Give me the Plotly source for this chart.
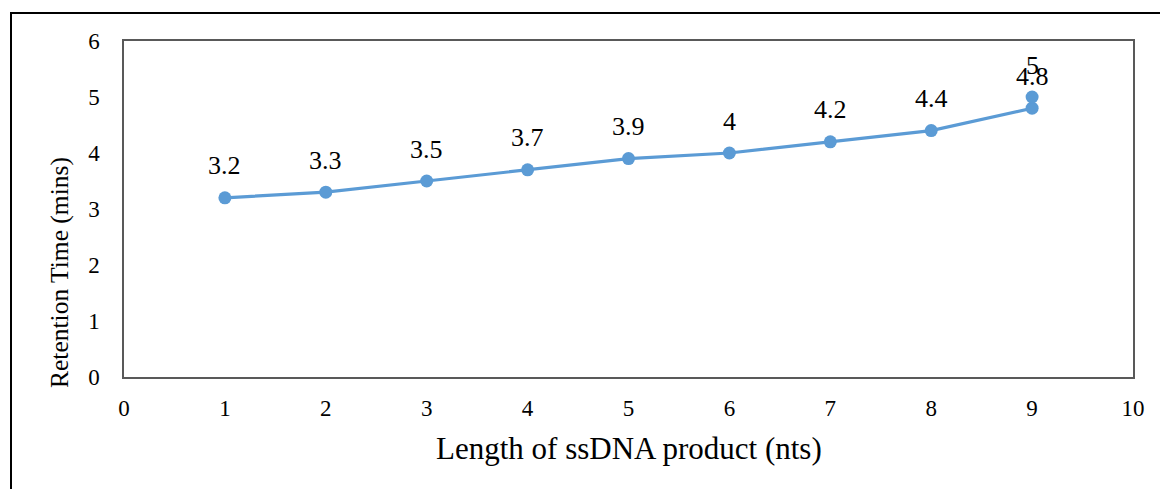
import plotly.graph_objects as go

# Retention time of ssDNA products by length
lengths = [1, 2, 3, 4, 5, 6, 7, 8, 9, 9]
retention = [3.2, 3.3, 3.5, 3.7, 3.9, 4.0, 4.2, 4.4, 4.8, 5.0]
value_labels = ["3.2", "3.3", "3.5", "3.7", "3.9", "4", "4.2", "4.4", "4.8", "5"]

x_ticks = list(range(0, 11))
y_ticks = list(range(0, 7))

FONT = "Liberation Serif, Times New Roman, serif"
BLUE = "#5B9BD5"

W, H = 1160, 489
ML, MR, MT, MB = 124, 27, 41, 112
PW, PH = W - ML - MR, H - MT - MB


def px_x(p):
    return (p - ML) / PW


def px_y(p):
    return (H - MB - p) / PH


fig = go.Figure()
fig.add_trace(go.Scatter(
    x=lengths, y=retention, mode="lines+markers",
    line=dict(color=BLUE, width=3.2),
    marker=dict(color=BLUE, size=13),
    hoverinfo="x+y", showlegend=False,
))

# value labels above each point
for xv, yv, lab in zip(lengths, retention, value_labels):
    fig.add_annotation(x=xv, y=yv, text=lab, showarrow=False,
                       yshift=32, font=dict(family=FONT, size=26, color="#000000"))

# axis titles
fig.add_annotation(xref="paper", yref="paper", x=px_x(629), y=px_y(448),
                   text="Length of ssDNA product (nts)", showarrow=False,
                   xanchor="center", yanchor="middle",
                   font=dict(family=FONT, size=31, color="#000000"))
fig.add_annotation(xref="paper", yref="paper", x=px_x(59), y=px_y(273),
                   text="Retention Time (mins)", showarrow=False, textangle=-90,
                   xanchor="center", yanchor="middle",
                   font=dict(family=FONT, size=25.5, color="#000000"))

# outer frame around the whole chart
fig.add_shape(type="rect", xref="paper", yref="paper",
              x0=px_x(11), x1=px_x(1250), y0=px_y(600), y1=px_y(13),
              line=dict(color="#000000", width=2), layer="above")

fig.update_layout(
    width=W, height=H,
    margin=dict(l=ML, r=MR, t=MT, b=MB),
    paper_bgcolor="white", plot_bgcolor="white",
    font=dict(family=FONT, size=23, color="#000000"),
    xaxis=dict(range=[0, 10], tickvals=x_ticks, showgrid=False, zeroline=False,
               showline=True, mirror=True, linecolor="#595959", linewidth=1.5,
               ticks="", ticklabelstandoff=10),
    yaxis=dict(range=[0, 6], tickvals=y_ticks, showgrid=False, zeroline=False,
               showline=True, mirror=True, linecolor="#595959", linewidth=1.5,
               ticks="", ticklabelstandoff=18),
)

fig.write_html("out.html")
